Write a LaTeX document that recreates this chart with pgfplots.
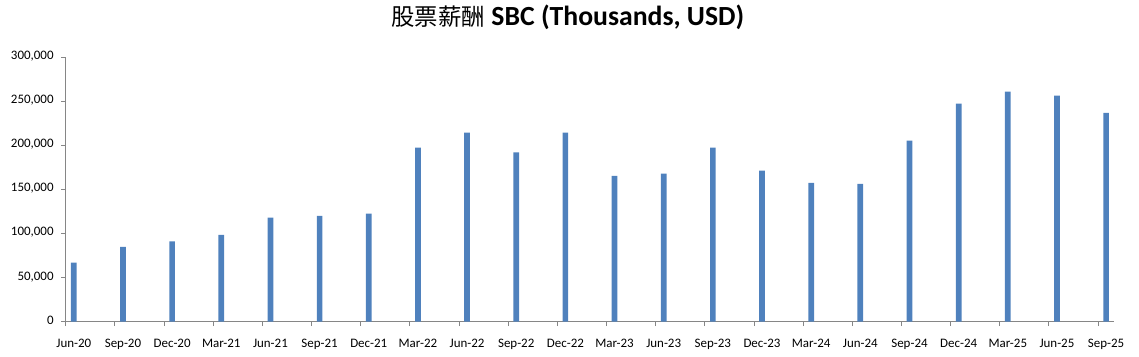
\documentclass[border=0pt]{standalone}
\usepackage{pgfplots}
\pgfplotsset{compat=1.18}
\usepackage{fontspec}
\setmainfont{Carlito}
\newfontfamily\cjk{Noto Sans CJK SC}
\definecolor{barblue}{HTML}{4F81BD}
\definecolor{axgray}{HTML}{868686}
\begin{document}
\begin{tikzpicture}
\useasboundingbox (0,0) rectangle (1139bp,357bp);
\begin{axis}[
  at={(65.7bp,35.3bp)}, anchor=south west,
  scale only axis, width=1048.3bp, height=264.4bp,
  xmin=-0.165, xmax=21.16, ymin=0, ymax=300000,
  axis x line*=bottom, axis y line*=left,
  axis line style={axgray, line width=0.8bp, -},
  tick align=outside, major tick length=4.5bp,
  tick style={axgray, line width=0.8bp},
  ytick={0,50000,...,300000},
  scaled y ticks=false,
  /pgf/number format/fixed, /pgf/number format/1000 sep={,}, /pgf/number format/assume math mode=true,
  yticklabel style={font=\fontsize{13}{15}\selectfont, anchor=mid east, inner sep=0pt, xshift=-7.4bp},
  xtick={-0.165,0.835,...,20.9},
  xticklabels={Jun-20,Sep-20,Dec-20,Mar-21,Jun-21,Sep-21,Dec-21,Mar-22,Jun-22,Sep-22,Dec-22,Mar-23,Jun-23,Sep-23,Dec-23,Mar-24,Jun-24,Sep-24,Dec-24,Mar-25,Jun-25,Sep-25},
  xticklabel style={font=\fontsize{13}{15}\selectfont, anchor=base, inner sep=0pt, xshift=8.1bp, yshift=-21.6bp},
  title={{\cjk\fontsize{23.5}{28}\selectfont 股票薪酬} \textbf{SBC (Thousands, USD)}},
  title style={font=\fontsize{27.8}{32}\selectfont, at={(0.5,1)}, anchor=base, xshift=-22bp, yshift=25.5bp, inner sep=0pt},
  clip=false,
]
\addplot[ybar, bar width=5.7bp, fill=barblue, draw=none] coordinates {
  (0,67000) (1,85000) (2,91000) (3,98500) (4,118000) (5,120000) (6,122500)
  (7,197500) (8,214500) (9,192000) (10,214500) (11,165500) (12,168000)
  (13,197500) (14,171500) (15,157500) (16,156500) (17,205500) (18,247500)
  (19,261000) (20,256500) (21,237000)
};
\end{axis}
\end{tikzpicture}
\end{document}
